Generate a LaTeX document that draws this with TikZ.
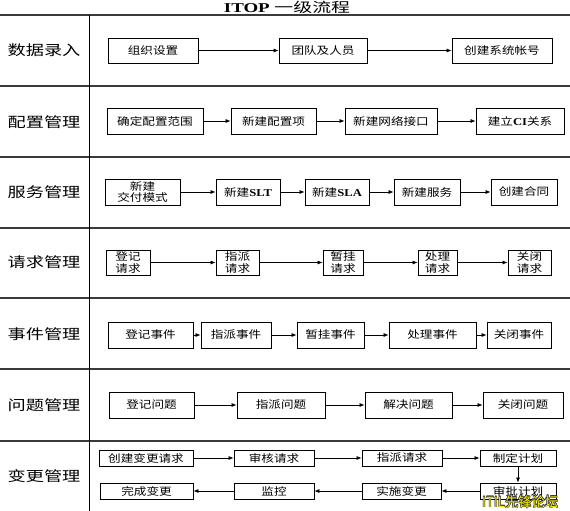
\documentclass[tikz,border=0pt]{standalone}
\usepackage{fontspec}
\usepackage{graphicx}
\setmainfont{Liberation Serif}
\newfontfamily\cjk{Noto Sans CJK SC}
\usetikzlibrary{arrows.meta}
\newcommand{\sx}[2][1.2]{\scalebox{#1}[1]{#2}}
\newcommand{\bx}[6]{\node[box, minimum width={#4-#2}, minimum height={#5-#3}] (#1) at ({(#2+#4)/2},{(#3+#5)/2}) {#6};}
\definecolor{lanec}{HTML}{3A3A3A}
\definecolor{wmyellow}{HTML}{F6F000}
\tikzset{
  box/.style={draw=black, line width=0.8pt, fill=white, inner sep=0pt, align=center,
    font=\cjk\fontsize{10.5}{11.5}\selectfont},
  arr/.style={-{Latex[length=5pt,width=4pt]}, line width=0.7pt},
  lanelabel/.style={font=\cjk\fontsize{14}{16}\selectfont, inner sep=0pt},
  laneline/.style={draw=lanec, line width=1.6pt},
  wm/.style={font=\cjk\fontsize{14}{16}\selectfont, inner sep=0pt, anchor=west}
}
\begin{document}
\begin{tikzpicture}[x=1pt,y=-1pt]
\useasboundingbox (0,0) rectangle (570,511);
\fill[white] (0,0) rectangle (570,511);
% title
\node[inner sep=0pt] (title) at (287,7) {\sx[1.4]{\fontsize{13.5}{14}\selectfont\textbf{ITOP} {\cjk 一级流程}}};
% lane lines
\coordinate (l0a) at (0,15);  \coordinate (l0b) at (570,15);
\coordinate (l1a) at (0,86);  \coordinate (l1b) at (570,86);
\coordinate (l2a) at (0,157); \coordinate (l2b) at (570,157);
\coordinate (l3a) at (0,228); \coordinate (l3b) at (570,228);
\coordinate (l4a) at (0,298); \coordinate (l4b) at (570,298);
\coordinate (l5a) at (0,369); \coordinate (l5b) at (570,369);
\coordinate (l6a) at (0,441); \coordinate (l6b) at (570,441);
\coordinate (va) at (89,15); \coordinate (vb) at (89,511);
\foreach \i in {0,...,6} {\draw[laneline] (l\i a) -- (l\i b);}
\draw[draw=black, line width=1pt] (va) -- (vb);
% lane labels
\node[lanelabel] (L1) at (44,50)  {\sx[1.3]{数据录入}};
\node[lanelabel] (L2) at (44,122) {\sx[1.3]{配置管理}};
\node[lanelabel] (L3) at (44,192) {\sx[1.3]{服务管理}};
\node[lanelabel] (L4) at (44,262) {\sx[1.3]{请求管理}};
\node[lanelabel] (L5) at (44,334) {\sx[1.3]{事件管理}};
\node[lanelabel] (L6) at (44,405) {\sx[1.3]{问题管理}};
\node[lanelabel] (L7) at (44,476) {\sx[1.3]{变更管理}};
% row 1
\bx{a1}{108}{38}{198}{63}{\sx{组织设置}}
\bx{a2}{279}{38}{367}{63}{\sx{团队及人员}}
\bx{a3}{452}{38}{552}{63}{\sx{创建系统帐号}}
\draw[arr] (a1) -- (a2); \draw[arr] (a2) -- (a3);
% row 2
\bx{b1}{107}{108}{203}{134}{\sx{确定配置范围}}
\bx{b2}{231}{108}{316}{134}{\sx{新建配置项}}
\bx{b3}{345}{108}{437}{134}{\sx{新建网络接口}}
\bx{b4}{476}{108}{564}{134}{\sx{建立\textbf{\rmfamily CI}关系}}
\draw[arr] (b1) -- (b2); \draw[arr] (b2) -- (b3); \draw[arr] (b3) -- (b4);
% row 3
\bx{c1}{105}{179}{180}{205}{\sx{新建}\\\sx{交付模式}}
\bx{c2}{216}{179}{280}{205}{\sx{新建\textbf{\rmfamily SLT}}}
\bx{c3}{305}{179}{369}{205}{\sx{新建\textbf{\rmfamily SLA}}}
\bx{c4}{394}{179}{460}{205}{\sx{新建服务}}
\bx{c5}{491}{179}{557}{205}{\sx{创建合同}}
\draw[arr] (c1) -- (c2); \draw[arr] (c2) -- (c3); \draw[arr] (c3) -- (c4); \draw[arr] (c4) -- (c5);
% row 4
\bx{d1}{106}{250}{150}{275}{\sx{登记}\\\sx{请求}}
\bx{d2}{216}{250}{259}{275}{\sx{指派}\\\sx{请求}}
\bx{d3}{323}{250}{363}{275}{\sx{暂挂}\\\sx{请求}}
\bx{d4}{418}{250}{457}{275}{\sx{处理}\\\sx{请求}}
\bx{d5}{508}{250}{551}{275}{\sx{关闭}\\\sx{请求}}
\draw[arr] (d1) -- (d2); \draw[arr] (d2) -- (d3); \draw[arr] (d3) -- (d4); \draw[arr] (d4) -- (d5);
% row 5
\bx{e1}{108}{322}{193}{348}{\sx{登记事件}}
\bx{e2}{201}{322}{271}{348}{\sx{指派事件}}
\bx{e3}{297}{322}{364}{348}{\sx{暂挂事件}}
\bx{e4}{389}{322}{476}{348}{\sx{处理事件}}
\bx{e5}{487}{322}{551}{348}{\sx{关闭事件}}
\draw[arr] (e1) -- (e2); \draw[arr] (e2) -- (e3); \draw[arr] (e3) -- (e4); \draw[arr] (e4) -- (e5);
% row 6
\bx{f1}{109}{392}{194}{418}{\sx{登记问题}}
\bx{f2}{237}{392}{325}{418}{\sx{指派问题}}
\bx{f3}{365}{392}{452}{418}{\sx{解决问题}}
\bx{f4}{483}{392}{563}{418}{\sx{关闭问题}}
\draw[arr] (f1) -- (f2); \draw[arr] (f2) -- (f3); \draw[arr] (f3) -- (f4);
% row 7
\bx{g1}{99}{450}{193}{466}{\sx{创建变更请求}}
\bx{g2}{234}{450}{314}{466}{\sx{审核请求}}
\bx{g3}{362}{450}{442}{466}{\sx{指派请求}}
\bx{g4}{480}{450}{556}{466}{\sx{制定计划}}
\bx{h1}{100}{483}{193}{499}{\sx{完成变更}}
\bx{h2}{234}{483}{314}{499}{\sx{监控}}
\bx{h3}{362}{483}{441}{499}{\sx{实施变更}}
\bx{h4}{480}{483}{556}{499}{\sx{审批计划}}
\draw[arr] (g1) -- (g2); \draw[arr] (g2) -- (g3); \draw[arr] (g3) -- (g4);
\draw[arr] (g4) -- (h4);
\draw[arr] (h4) -- (h3); \draw[arr] (h3) -- (h2); \draw[arr] (h2) -- (h1);
% watermark
\foreach \dx/\dy in {-0.5/0,0.5/0,0/-0.5,0/0.5,-0.35/-0.35,0.35/0.35,-0.35/0.35,0.35/-0.35} {
  \node[wm, text=black!80] at (482+\dx,502+\dy) {\sx[0.95]{ITIL先锋论坛}};
}
\node[wm, text=wmyellow] (wmark) at (482,502) {\sx[0.95]{ITIL先锋论坛}};
\end{tikzpicture}
\end{document}
